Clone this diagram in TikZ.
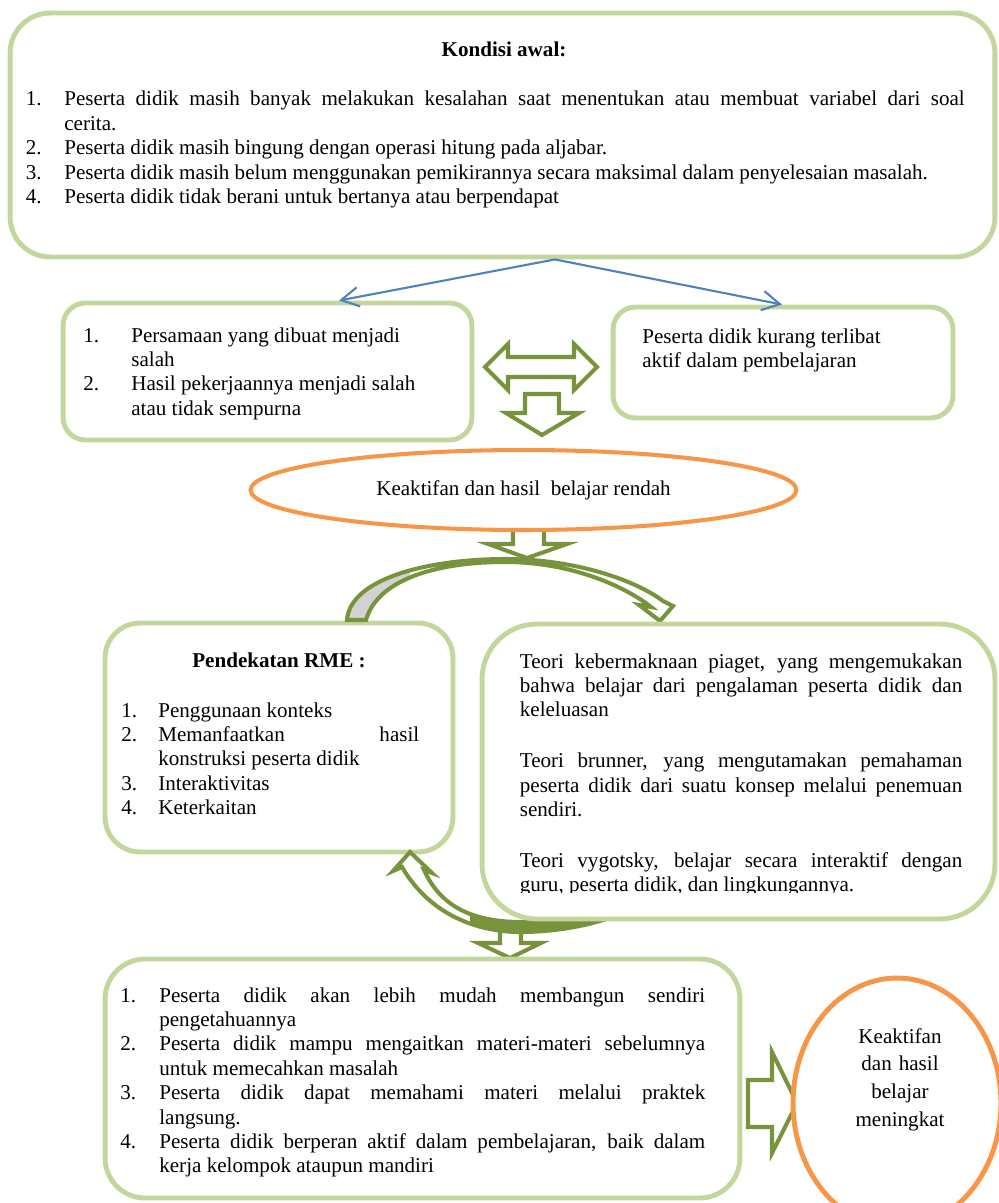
\documentclass[tikz,border=0pt]{standalone}
\usepackage{fontspec}
\setmainfont{Liberation Serif}
\usetikzlibrary{arrows.meta, shapes.geometric, positioning}

\definecolor{hijaumuda}{HTML}{C3D69B}
\definecolor{hijautua}{HTML}{77933C}
\definecolor{oranye}{HTML}{F79646}
\definecolor{biru}{HTML}{4F81BD}
\definecolor{abu}{HTML}{D2D2D2}

\tolerance=9999 \hbadness=10000 \hyphenpenalty=10000
\newlength{\gantung}
\newcommand{\butir}[2]{\hangindent=\gantung\hangafter=1\makebox[\gantung][l]{#1}#2\par}

% pita lengkung di atas dan di bawah
\def\pitaatas{(347,620) .. controls (350,578) and (430,559) .. (505,559) .. controls (575,559) and (635,580) .. (663,601) -- (673,606) -- (660,621) -- (639,605) -- (651,607) .. controls (626,587) and (572,562) .. (505,562) .. controls (440,562) and (378,578) .. (366,620) -- cycle}
\def\pitabawah{(402,867) .. controls (430,915) and (478,933) .. (525,932) .. controls (572,931) and (612,920) .. (640,905) -- (640,897) .. controls (605,914) and (565,922) .. (522,922) .. controls (470,922) and (440,905) .. (424,870) -- (432,873) -- (410,852) -- (393,871) -- cycle}

\begin{document}
\begin{tikzpicture}[
    x=0.02cm, y=-0.02cm,
    every node/.style={font=\fontsize{12}{13.9}\selectfont, inner sep=0pt},
    tebal/.style={font=\fontsize{12}{13.9}\selectfont\bfseries},
    kotak/.style={rectangle, draw=hijaumuda, line width=2.8pt, fill=white},
    teks/.style={anchor=base west, align=justify},
    lonjong/.style={ellipse, draw=oranye, line width=2.3pt, fill=white},
    panahblok/.style={draw=hijautua, line width=2.3pt, fill=white},
    panahbiru/.style={-{Straight Barb[length=10pt, width=11pt]}, biru, line width=1.2pt}
]
\useasboundingbox (0,0) rectangle (998,1203);

% kondisi awal
\node[kotak, rounded corners=0.8cm, minimum width=19.7cm, minimum height=4.88cm] (awal) at (502.5,135) {};
\node[tebal, anchor=base] (judulawal) at (504,57) {Kondisi awal:};
\node[teks, text width=18.78cm] (isiawal) at (25.5,106) {\setlength{\gantung}{0.77cm}%
  \butir{1.}{Peserta didik masih banyak melakukan kesalahan saat menentukan atau membuat variabel dari soal\linebreak cerita.}
  \butir{2.}{Peserta didik masih bingung dengan operasi hitung pada aljabar.}
  \butir{3.}{Peserta didik masih belum menggunakan pemikirannya secara maksimal dalam penyelesaian masalah.}
  \butir{4.}{Peserta didik tidak berani untuk bertanya atau berpendapat}};

% akibat
\node[kotak, rounded corners=0.45cm, minimum width=8.18cm, minimum height=2.74cm] (akibat1) at (267.5,371.5) {};
\node[teks, text width=7.2cm] (isiakibat1) at (83,342) {\setlength{\gantung}{0.96cm}%
  \butir{1.}{Persamaan yang dibuat menjadi\newline salah}
  \butir{2.}{Hasil pekerjaannya menjadi salah\newline atau tidak sempurna}};
\node[kotak, rounded corners=0.45cm, minimum width=6.8cm, minimum height=2.22cm] (akibat2) at (783,362.5) {};
\node[teks, text width=6cm] (isiakibat2) at (642,343) {Peserta didik kurang terlibat\newline aktif dalam pembelajaran};

\draw[panahbiru] ([xshift=1.05cm]awal.south) -- ([xshift=1.43cm]akibat1.north);
\draw[panahbiru] ([xshift=1.05cm]awal.south) -- ([xshift=-0.02cm]akibat2.north);

% panah blok
\draw[panahblok] (485,367) -- (508,344) -- (508,357) -- (574,357) -- (574,344) -- (597,367) -- (574,390) -- (574,377) -- (508,377) -- (508,390) -- cycle;
\draw[panahblok] (525,394) -- (559,394) -- (559,413) -- (579,413) -- (542,435) -- (506,413) -- (525,413) -- cycle;
\draw[panahblok] (513,520) -- (544,520) -- (544,544) -- (567,544) -- (527,558) -- (488,544) -- (513,544) -- cycle;

\node[lonjong, minimum width=10.92cm, minimum height=1.6cm] (rendah) at (523.5,490) {Keaktifan dan hasil\ \ belajar rendah};

% pendekatan RME
\node[kotak, rounded corners=0.7cm, minimum width=6.96cm, minimum height=4.58cm] (rme) at (279,737.5) {};
\node[tebal, anchor=base] (judulrme) at (279,667) {Pendekatan RME :};
\node[teks, text width=5.96cm] (isirme) at (121,717) {\setlength{\gantung}{0.74cm}%
  \butir{1.}{Penggunaan konteks}
  \butir{2.}{Memanfaatkan hasil\linebreak konstruksi peserta didik}
  \butir{3.}{Interaktivitas}
  \butir{4.}{Keterkaitan}};

\path[fill=white] \pitaatas;
\begin{scope}
  \clip \pitaatas;
  \fill[abu] (340,550) rectangle (410,625);
\end{scope}
\draw[panahblok, fill=none] \pitaatas;

\draw[panahblok] (500,925) -- (521,925) -- (521,943) -- (541,943) -- (510,958) -- (478,943) -- (500,943) -- cycle;

\path[fill=white] \pitabawah;
\begin{scope}
  \clip \pitabawah;
  \fill[hijautua] (470,880) rectangle (650,940);
\end{scope}
\draw[panahblok, fill=none] \pitabawah;

% teori
\node[kotak, rounded corners=1.1cm, minimum width=10.26cm, minimum height=5.9cm] (teori) at (738.5,771.5) {};
\begin{scope}
  \clip (482,624) rectangle (995,892);
  \node[teks, text width=8.85cm] (isiteori) at (519.5,668) {Teori kebermaknaan piaget, yang mengemukakan\linebreak bahwa belajar dari pengalaman peserta didik dan\linebreak keleluasan\par\vspace{0.53cm}
  Teori brunner, yang mengutamakan pemahaman\linebreak peserta didik dari suatu konsep melalui penemuan\linebreak sendiri.\par\vspace{0.53cm}
  Teori vygotsky, belajar secara interaktif dengan\linebreak guru, peserta didik, dan lingkungannya.};
\end{scope}

% hasil tindakan
\node[kotak, rounded corners=0.8cm, minimum width=12.7cm, minimum height=4.78cm] (dampak) at (422.5,1078.5) {};
\node[teks, text width=11.7cm] (isidampak) at (120,1002) {\setlength{\gantung}{0.78cm}%
  \butir{1.}{Peserta didik akan lebih mudah membangun sendiri\linebreak pengetahuannya}
  \butir{2.}{Peserta didik mampu mengaitkan materi-materi sebelumnya\linebreak untuk memecahkan masalah}
  \butir{3.}{Peserta didik dapat memahami materi melalui praktek\linebreak langsung.}
  \butir{4.}{Peserta didik berperan aktif dalam pembelajaran, baik dalam\linebreak kerja kelompok ataupun mandiri}};

\draw[panahblok] (748,1080) -- (772,1080) -- (772,1052) -- (797,1103) -- (772,1153) -- (772,1127) -- (748,1127) -- cycle;

\node[lonjong, line width=2.8pt, minimum width=4.16cm, minimum height=5cm] (meningkat) at (897,1103) {};
\node[font=\fontsize{12}{15.9}\selectfont, text width=3cm, align=center, anchor=base] (isimeningkat) at (900,1043) {Keaktifan\\ dan hasil\\ belajar\\ meningkat};
\end{tikzpicture}
\end{document}
